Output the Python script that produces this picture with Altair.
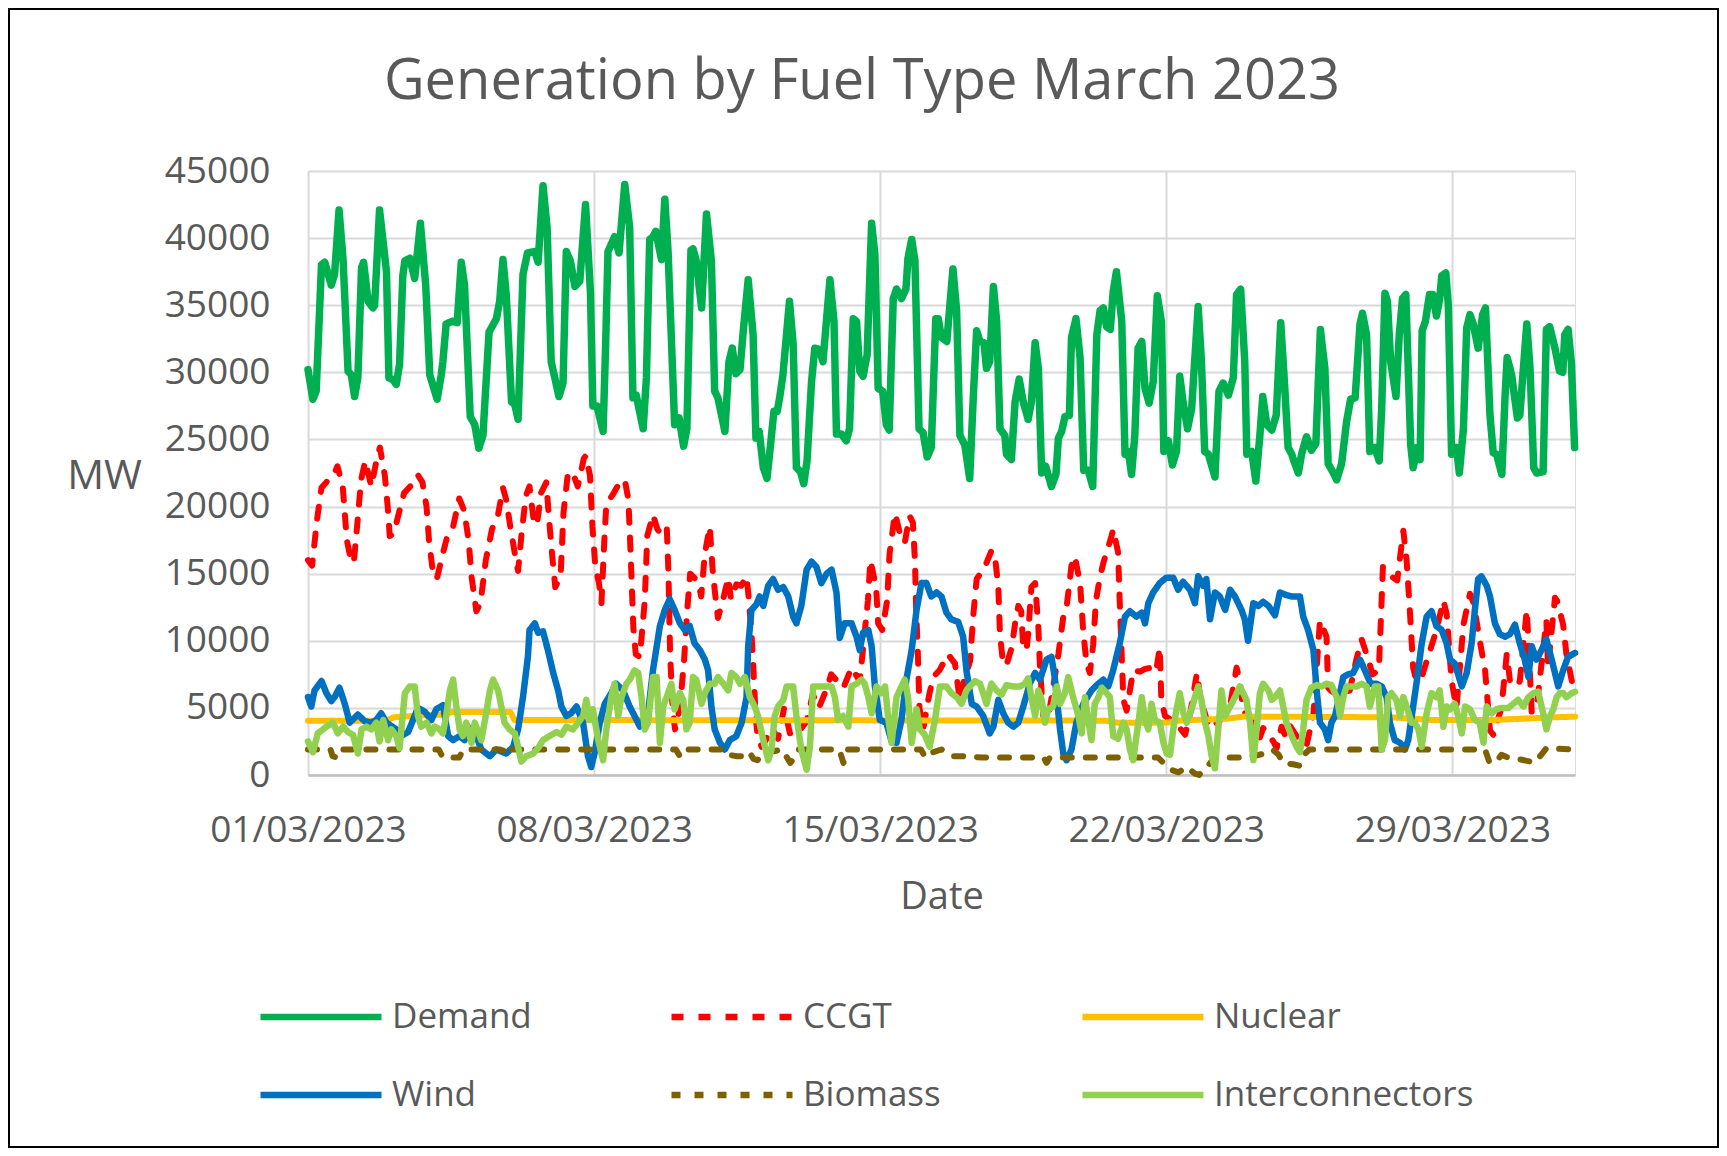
import altair as alt
import pandas as pd

# ---------------- data (t = days since 01/03/2023 00:00, value = MW) ----------------
demand_t = [0.00, 0.12, 0.20, 0.33, 0.41, 0.57, 0.65, 0.76, 0.86, 0.98, 1.06, 1.14, 1.22, 1.31, 1.36, 1.47,
            1.59, 1.63, 1.75, 1.92, 1.98, 2.08, 2.16, 2.24, 2.32, 2.37, 2.49, 2.61, 2.75, 2.88, 2.98, 3.16,
            3.26, 3.30, 3.38, 3.53, 3.65, 3.75, 3.83, 3.97, 4.08, 4.18, 4.28, 4.43, 4.61, 4.69, 4.77, 4.85,
            4.98, 5.06, 5.14, 5.26, 5.37, 5.55, 5.63, 5.75, 5.85, 5.95, 6.14, 6.24, 6.32, 6.42, 6.53, 6.65,
            6.79, 6.91, 6.97, 7.07, 7.22, 7.28, 7.34, 7.50, 7.61, 7.75, 7.87, 7.95, 8.03, 8.20, 8.28, 8.36,
            8.44, 8.51, 8.65, 8.73, 8.81, 8.97, 9.08, 9.19, 9.27, 9.37, 9.42, 9.50, 9.63, 9.75, 9.87, 9.95,
            10.03, 10.20, 10.30, 10.38, 10.47, 10.57, 10.65, 10.77, 10.89, 10.96, 11.04, 11.14, 11.23, 11.30,
            11.40, 11.48, 11.54, 11.62, 11.78, 11.87, 11.95, 12.05, 12.13, 12.21, 12.32, 12.40, 12.51, 12.60,
            12.77, 12.87, 12.93, 13.05, 13.17, 13.25, 13.34, 13.42, 13.50, 13.58, 13.68, 13.79, 13.87, 13.95,
            14.06, 14.15, 14.22, 14.32, 14.40, 14.52, 14.63, 14.68, 14.77, 14.85, 14.95, 15.05, 15.15, 15.25,
            15.36, 15.42, 15.50, 15.63, 15.78, 15.87, 15.95, 16.07, 16.19, 16.28, 16.36, 16.44, 16.54, 16.60,
            16.68, 16.77, 16.85, 16.93, 17.05, 17.09, 17.21, 17.30, 17.40, 17.50, 17.62, 17.70, 17.79, 17.87,
            17.95, 18.05, 18.19, 18.30, 18.36, 18.44, 18.52, 18.63, 18.68, 18.79, 18.89, 18.98, 19.09, 19.20,
            19.30, 19.38, 19.46, 19.54, 19.63, 19.70, 19.78, 19.91, 19.99, 20.07, 20.15, 20.23, 20.31, 20.40,
            20.48, 20.58, 20.68, 20.78, 20.88, 20.94, 21.05, 21.15, 21.25, 21.33, 21.41, 21.52, 21.62, 21.78,
            21.86, 21.94, 22.03, 22.19, 22.29, 22.39, 22.52, 22.64, 22.72, 22.82, 22.92, 22.97, 23.09, 23.19,
            23.29, 23.36, 23.46, 23.58, 23.69, 23.80, 23.90, 23.98, 24.07, 24.11, 24.23, 24.31, 24.43, 24.55,
            24.66, 24.77, 24.88, 24.96, 25.07, 25.17, 25.29, 25.41, 25.51, 25.62, 25.74, 25.80, 25.90, 25.98,
            26.10, 26.21, 26.27, 26.35, 26.41, 26.49, 26.62, 26.70, 26.78, 26.86, 26.98, 27.04, 27.14, 27.21,
            27.26, 27.34, 27.44, 27.52, 27.61, 27.69, 27.74, 27.84, 27.90, 27.98, 28.10, 28.17, 28.27, 28.35,
            28.43, 28.51, 28.63, 28.74, 28.81, 28.92, 29.00, 29.08, 29.21, 29.29, 29.34, 29.45, 29.59, 29.65,
            29.82, 29.90, 29.99, 30.06, 30.22, 30.30, 30.38, 30.51, 30.62, 30.70, 30.75, 30.83, 30.91, 30.99]
demand_v = [30200, 28000, 28600, 38000, 38200, 36500, 37300, 42100, 38300, 30100, 29800, 28200, 29600, 37800, 38200, 35300,
            34800, 35000, 42100, 37500, 29600, 29450, 29100, 30600, 37200, 38300, 38500, 37000, 41100, 36500, 29800, 28000,
            29800, 30800, 33600, 33800, 33700, 38200, 36500, 26700, 26100, 24350, 25300, 33000, 34000, 35300, 38400, 35800,
            27800, 27600, 26500, 37300, 38900, 39000, 38200, 43900, 40800, 30800, 28200, 29200, 39000, 38300, 36400, 36800,
            42500, 36000, 27500, 27500, 25600, 31800, 39000, 40100, 38900, 44000, 40800, 28100, 28300, 25800, 29600, 39900,
            40100, 40500, 38400, 42900, 39000, 26100, 26600, 24500, 25800, 39100, 39200, 38300, 34800, 41800, 38300, 28600,
            28100, 25600, 30800, 31800, 29900, 30200, 33100, 36900, 32800, 25100, 25600, 22900, 22100, 24100,
            27100, 27100, 28100, 29800, 35300, 32100, 22900, 22600, 21700, 23400, 29300, 31800, 31700, 30800,
            36900, 33800, 25400, 25400, 24900, 25800, 34000, 33800, 30100, 29700, 31300, 41100, 38800, 28800,
            28600, 26100, 25700, 35500, 36200, 35500, 36200, 38500, 39900, 38300, 25800, 25500, 23700, 24400,
            34000, 34000, 32600, 32300, 37700, 34600, 25300, 24600, 22100, 28300, 33100, 32300, 32200, 30300,
            30800, 36400, 33800, 25800, 25300, 23900, 23500, 27800, 29500, 27800, 26500, 27800, 32200, 30300,
            22500, 23000, 21500, 22400, 25100, 25600, 26700, 26800, 32600, 34000, 31100, 22700, 22700, 21500,
            32800, 34600, 34800, 33400, 33200, 36000, 37500, 33800, 23900, 24100, 22400, 25300, 31800, 32300,
            28800, 27700, 29300, 35700, 33800, 24100, 24900, 23100, 24100, 29700, 27800, 25800, 27300, 34900,
            30800, 24100, 23900, 22200, 28600, 29200, 28300, 29600, 35800, 36200, 30800, 23900, 24100, 21900,
            25300, 28200, 26100, 25700, 26800, 33700, 28800, 24400, 23900, 23500, 22500, 23900, 25200, 24200,
            24700, 33200, 30300, 23200, 22600, 22000, 23200, 26300, 28000, 28100, 33600, 34400, 32800, 24100,
            24400, 23400, 27300, 35900, 35300, 30800, 28200, 32800, 35500, 35800, 24600, 22900, 24400, 23500,
            33100, 33800, 35800, 35800, 34200, 35500, 37200, 37400, 35000, 23900, 24400, 22500, 25800, 33300,
            34300, 33600, 31800, 34300, 34800, 26800, 24000, 23900, 22400, 28300, 31100, 29800, 26600, 26800,
            33600, 30300, 22900, 22500, 22600, 33200, 33400, 31800, 30100, 30000, 32800, 33200, 30800, 24400]

ccgt_t = [0.00, 0.10, 0.22, 0.33, 0.50, 0.65, 0.72, 0.85, 0.95, 1.05, 1.12, 1.20, 1.30, 1.40, 1.55, 1.70,
          1.76, 1.88, 1.95, 2.00, 2.10, 2.24, 2.35, 2.50, 2.62, 2.70, 2.80, 2.90, 2.96, 3.04, 3.15, 3.30,
          3.40, 3.55, 3.70, 3.82, 3.93, 4.00, 4.12, 4.22, 4.35, 4.50, 4.65, 4.77, 4.85, 4.95, 5.06, 5.14,
          5.22, 5.33, 5.42, 5.52, 5.60, 5.70, 5.83, 5.90, 5.97, 6.05, 6.18, 6.25, 6.36, 6.48, 6.60, 6.75,
          6.80, 6.90, 6.96, 7.03, 7.12, 7.18, 7.25, 7.30, 7.46, 7.63, 7.75, 7.84, 7.90, 7.96, 8.02, 8.12,
          8.24, 8.30, 8.44, 8.55, 8.69, 8.78, 8.82, 8.86, 8.92, 8.98, 9.10, 9.20, 9.28, 9.35, 9.45, 9.55,
          9.62, 9.71, 9.83, 9.90, 9.95, 10.03, 10.15, 10.28, 10.35, 10.48, 10.60, 10.73, 10.78, 10.85, 10.90, 10.95,
          11.00, 11.10, 11.20, 11.35, 11.50, 11.65, 11.80, 12.00, 12.20, 12.35, 12.50, 12.70, 12.80, 12.95, 13.10, 13.30,
          13.50, 13.70, 13.76, 13.90, 13.95, 14.05, 14.17, 14.23, 14.36, 14.50, 14.60, 14.72, 14.80, 14.85, 14.88, 14.92,
          14.96, 15.05, 15.20, 15.30, 15.45, 15.66, 15.83, 15.95, 16.05, 16.20, 16.28, 16.36, 16.52, 16.60, 16.72, 16.80,
          16.89, 16.93, 17.01, 17.10, 17.22, 17.30, 17.38, 17.45, 17.50, 17.58, 17.62, 17.70, 17.79, 17.87, 17.91, 17.99,
          18.10, 18.36, 18.48, 18.56, 18.68, 18.76, 18.89, 18.97, 19.05, 19.13, 19.21, 19.28, 19.38, 19.46, 19.66, 19.70,
          19.82, 19.86, 19.95, 20.03, 20.19, 20.36, 20.48, 20.64, 20.75, 20.84, 20.88, 20.97, 21.17, 21.33, 21.46, 21.58,
          21.75, 21.83, 22.05, 22.30, 22.55, 22.72, 22.80, 22.88, 23.10, 23.29, 23.37, 23.62, 23.70, 23.82, 23.90, 24.00,
          24.27, 24.43, 24.60, 24.68, 24.76, 24.92, 24.96, 25.02, 25.17, 25.49, 25.65, 25.78, 25.90, 26.05, 26.20, 26.25,
          26.30, 26.40, 26.65, 26.80, 26.88, 26.96, 27.04, 27.12, 27.25, 27.61, 27.78, 27.86, 27.98, 28.10, 28.27, 28.43,
          28.52, 28.67, 28.80, 28.92, 29.00, 29.20, 29.33, 29.41, 29.57, 29.65, 29.82, 29.86, 29.94, 30.06, 30.30, 30.34,
          30.51, 30.56, 30.71, 30.79, 30.99]
ccgt_v = [16000, 15600, 19000, 21400, 22000, 22500, 23000, 21500, 17500, 16000, 15800, 18500, 22000, 23400, 21500, 23800,
          24400, 22300, 20000, 17800, 18000, 19700, 21000, 21500, 21600, 22300, 21800, 20000, 17500, 15500, 14600, 16500,
          17700, 18500, 20600, 19700, 17500, 14800, 12200, 12800, 16000, 18300, 19400, 21400, 20500, 18500, 16500, 15200,
          17800, 20800, 21500, 19000, 18600, 21000, 21800, 19000, 16500, 14000, 14800, 19500, 22500, 22500, 21500, 23600,
          23800, 22300, 18500, 15500, 14300, 12800, 17500, 20200, 20900, 21800, 22000, 20500, 16000, 11000, 9000, 8800,
          13000, 17800, 19400, 18300, 17800, 18300, 15000, 9000, 5000, 3400, 5000, 8500, 12300, 15000, 14700, 14400,
          13300, 16500, 18500, 15300, 13800, 11700, 13000, 14700, 13100, 14200, 14100, 14800, 13300, 10600, 7800, 4500,
          2900, 2100, 2600, 3500, 2700, 5000, 3000, 3200, 4000, 6000, 5000, 6500, 7500, 7000, 6500, 8000,
          7000, 13000, 16000, 14000, 11300, 10800, 13000, 16500, 19500, 17800, 17300, 19300, 18800, 16000, 12300, 9200,
          5000, 3400, 6000, 7300, 7800, 9000, 8300, 5500, 7000, 8500, 12000, 14600, 15300, 15800, 16700, 16500,
          14000, 10500, 8200, 8300, 9500, 11300, 12600, 12200, 9500, 9300, 10500, 14000, 14300, 11000, 8000, 4400,
          4000, 9000, 11800, 12500, 15600, 16300, 14300, 10600, 8300, 7600, 9700, 13000, 14800, 15800, 17800, 18300,
          16600, 13000, 5600, 4800, 7800, 7700, 7900, 8000, 7700, 9500, 5500, 4400, 4000, 3500, 3000, 4500,
          7600, 5800, 3500, 4000, 5000, 8000, 7000, 4800, 4000, 2800, 3500, 2500, 2000, 3600, 3000, 3800,
          2500, 2200, 4500, 8000, 11500, 10300, 6500, 6300, 6000, 6300, 8600, 10100, 9000, 7500, 7800, 11500,
          15500, 15000, 14500, 18200, 16000, 12200, 8000, 7000, 7300, 10800, 13000, 12000, 7000, 5000, 11200, 13500,
          12800, 10000, 7800, 3300, 3000, 5000, 9000, 7000, 6600, 7000, 12300, 10000, 4700, 5000, 11500, 8000,
          13200, 13000, 11200, 9000, 6000]

nuclear_t = [0.00, 1.90, 2.10, 2.80, 3.40, 3.50, 4.95, 5.05, 19.50, 19.80, 21.00, 21.30, 22.50, 22.90,
             26.50, 27.50, 29.00, 30.50, 31.00]
nuclear_v = [4050, 4050, 4300, 4450, 4500, 4700, 4700, 4100, 4050, 3900, 3900, 4050, 4200, 4350,
             4300, 4100, 4100, 4300, 4350]

wind_t = [0.00, 0.08, 0.16, 0.33, 0.45, 0.57, 0.65, 0.77, 0.90, 1.02, 1.22, 1.39, 1.55, 1.67, 1.79, 1.92,
          2.16, 2.28, 2.45, 2.57, 2.69, 2.86, 3.02, 3.14, 3.30, 3.43, 3.55, 3.71, 3.83, 3.96, 4.12, 4.24,
          4.45, 4.61, 4.85, 5.02, 5.14, 5.26, 5.38, 5.42, 5.55, 5.63, 5.75, 5.87, 6.00, 6.12, 6.20, 6.32,
          6.44, 6.57, 6.73, 6.85, 6.93, 7.01, 7.14, 7.26, 7.42, 7.54, 7.71, 7.87, 7.99, 8.12, 8.32, 8.44,
          8.61, 8.73, 8.85, 8.97, 9.10, 9.22, 9.34, 9.46, 9.59, 9.71, 9.79, 9.87, 9.95, 10.08, 10.20, 10.32,
          10.48, 10.61, 10.73, 10.77, 10.85, 10.97, 11.05, 11.14, 11.26, 11.38, 11.50, 11.63, 11.75, 11.87, 11.95, 12.07,
          12.20, 12.32, 12.44, 12.56, 12.69, 12.81, 12.93, 13.01, 13.13, 13.30, 13.42, 13.50, 13.58, 13.71, 13.79, 13.87,
          13.99, 14.15, 14.28, 14.40, 14.52, 14.64, 14.77, 14.89, 15.01, 15.13, 15.25, 15.38, 15.50, 15.62, 15.74, 15.91,
          16.03, 16.11, 16.24, 16.36, 16.52, 16.68, 16.77, 16.89, 17.01, 17.13, 17.26, 17.38, 17.50, 17.66, 17.79, 17.91,
          18.07, 18.19, 18.27, 18.40, 18.48, 18.56, 18.68, 18.80, 18.97, 19.17, 19.30, 19.46, 19.58, 19.70, 19.86, 19.99,
          20.11, 20.27, 20.40, 20.48, 20.56, 20.68, 20.84, 21.00, 21.17, 21.29, 21.41, 21.58, 21.70, 21.78, 21.90, 21.98,
          22.07, 22.19, 22.31, 22.44, 22.56, 22.68, 22.84, 22.92, 23.00, 23.13, 23.25, 23.37, 23.50, 23.66, 23.78, 23.94,
          24.07, 24.27, 24.35, 24.47, 24.60, 24.68, 24.76, 24.88, 24.96, 25.04, 25.13, 25.25, 25.33, 25.45, 25.57, 25.74,
          25.86, 26.00, 26.15, 26.27, 26.39, 26.47, 26.59, 26.72, 26.84, 26.92, 27.04, 27.12, 27.25, 27.37, 27.49, 27.61,
          27.74, 27.86, 27.94, 28.06, 28.23, 28.35, 28.47, 28.55, 28.63, 28.71, 28.84, 28.92, 29.04, 29.16, 29.29, 29.41,
          29.53, 29.65, 29.77, 29.86, 29.94, 30.06, 30.18, 30.30, 30.43, 30.51, 30.59, 30.71, 30.83, 31.00]
wind_v = [5800, 5100, 6300, 7000, 6100, 5500, 5800, 6500, 5300, 3900, 4500, 4000, 3900, 4100, 4600, 3900,
          3400, 2900, 3200, 4100, 5000, 4700, 4100, 4900, 5200, 2900, 2600, 2900, 2600, 3500, 2900, 1900,
          1400, 1900, 1600, 2100, 3400, 5800, 8800, 10800, 11300, 10600, 10700, 9300, 7600, 6300, 5100, 4400,
          4600, 5100, 3900, 1400, 600, 1600, 3900, 5300, 6100, 6800, 6300, 5100, 4400, 3600, 4600, 7800,
          11100, 12300, 13100, 12300, 11300, 10800, 11100, 9800, 9300, 8600, 7800, 5100, 3400, 2400, 1900, 2600,
          2900, 3900, 5800, 9600, 12300, 12700, 13300, 12600, 14100, 14600, 13800, 14000, 13300, 11800, 11300, 12600,
          15300, 15900, 15500, 14300, 15000, 15300, 13600, 10200, 11300, 11300, 10300, 9300, 10600, 10800, 9600, 6600,
          4100, 3900, 2500, 2400, 4100, 7100, 9300, 12300, 14300, 14300, 13300, 13600, 13300, 12100, 11600, 11400,
          10300, 7800, 5300, 5100, 4400, 3100, 3600, 5600, 4600, 3900, 3600, 3900, 5100, 6800, 7600, 7100,
          8600, 8800, 7300, 3400, 1600, 1100, 1900, 3900, 5300, 6300, 6700, 7100, 6600, 7800, 9800, 11800,
          12200, 11800, 12100, 11300, 12800, 13600, 14300, 14700, 14700, 13800, 14400, 13800, 12800, 14800, 14100, 14600,
          11600, 13600, 13300, 12300, 13800, 13300, 12300, 11600, 10000, 12800, 12600, 12900, 12600, 11900, 13600, 13400,
          13300, 13300, 11800, 10800, 9300, 6300, 3900, 3400, 2600, 3900, 4400, 6100, 7300, 7500, 7600, 8600,
          7800, 6800, 6800, 6600, 5800, 3900, 2600, 2400, 1900, 2600, 5100, 6800, 9800, 11800, 12200, 11100,
          10800, 9800, 8600, 8300, 6600, 7600, 9800, 12300, 14600, 14800, 14100, 13300, 11300, 10500, 10300, 10500,
          11200, 9800, 8600, 7300, 9600, 8600, 9300, 10100, 8600, 7600, 6600, 7800, 8800, 9100]

biomass_t = [0.00, 0.55, 0.60, 0.72, 0.80, 3.20, 3.30, 3.70, 3.80, 4.70, 4.80, 4.85, 4.95, 9.00, 9.10, 9.20,
             10.20, 10.30, 10.50, 10.70, 10.80, 10.90, 11.00, 11.10, 11.60, 11.80, 11.90, 12.00, 13.00, 13.10, 13.20,
             15.00, 15.10, 15.20, 15.50, 15.80, 16.00, 16.50, 18.00, 18.07, 18.15, 20.80, 20.90, 21.10, 21.30,
             21.50, 21.70, 21.80, 22.00, 22.15, 22.30, 23.00, 23.40, 23.60, 23.75, 23.85, 24.10, 24.25, 24.40,
             24.50, 28.80, 28.90, 29.05, 29.20, 29.40, 29.60, 29.90, 30.00, 30.20, 30.30, 31.00]
biomass_v = [1900, 1900, 1400, 1300, 1900, 1900, 1300, 1300, 1900, 1900, 1800, 1500, 1900, 1900, 1400, 1900,
             1900, 1500, 1400, 1400, 1700, 1200, 1100, 1600, 1900, 900, 1300, 1900, 1900, 900, 1900,
             1900, 1300, 1600, 1900, 1400, 1400, 1300, 1300, 900, 1300, 1300, 1000, 400, 200,
             600, 100, 0, 600, 1200, 1300, 1300, 1600, 1900, 1500, 900, 800, 700, 1600,
             1900, 1900, 1000, 900, 1500, 1250, 1200, 1000, 900, 1600, 2000, 1900]

inter_t = [0.00, 0.12, 0.24, 0.45, 0.61, 0.73, 0.86, 0.98, 1.10, 1.22, 1.31, 1.43, 1.55, 1.67, 1.75, 1.84,
           1.96, 2.04, 2.16, 2.24, 2.37, 2.49, 2.61, 2.69, 2.77, 2.90, 3.02, 3.10, 3.22, 3.30, 3.38, 3.47,
           3.55, 3.63, 3.71, 3.79, 3.87, 4.00, 4.08, 4.24, 4.36, 4.45, 4.53, 4.65, 4.73, 4.81, 4.93, 5.06,
           5.14, 5.22, 5.34, 5.51, 5.63, 5.75, 5.91, 6.08, 6.20, 6.32, 6.48, 6.61, 6.73, 6.81, 6.89, 6.97,
           7.10, 7.22, 7.30, 7.42, 7.50, 7.59, 7.67, 7.79, 7.87, 7.99, 8.08, 8.16, 8.24, 8.32, 8.44, 8.53,
           8.61, 8.69, 8.81, 8.89, 8.97, 9.10, 9.18, 9.26, 9.34, 9.42, 9.50, 9.63, 9.71, 9.83, 9.95, 10.03,
           10.16, 10.28, 10.36, 10.48, 10.57, 10.69, 10.81, 10.93, 11.01, 11.14, 11.26, 11.34, 11.42, 11.50, 11.63, 11.71,
           11.87, 11.95, 12.07, 12.20, 12.28, 12.36, 12.52, 12.69, 12.81, 12.89, 12.97, 13.09, 13.22, 13.30, 13.42, 13.54,
           13.62, 13.71, 13.79, 13.91, 14.03, 14.12, 14.19, 14.28, 14.40, 14.52, 14.60, 14.68, 14.77, 14.89, 14.97, 15.09,
           15.21, 15.34, 15.46, 15.62, 15.74, 15.87, 15.99, 16.11, 16.19, 16.32, 16.44, 16.52, 16.60, 16.72, 16.85, 16.97,
           17.09, 17.25, 17.42, 17.54, 17.62, 17.70, 17.79, 17.87, 17.95, 18.03, 18.11, 18.23, 18.32, 18.40, 18.52, 18.60,
           18.72, 18.85, 18.93, 19.01, 19.09, 19.17, 19.25, 19.34, 19.42, 19.54, 19.62, 19.70, 19.82, 19.95, 20.03, 20.11,
           20.19, 20.27, 20.40, 20.48, 20.56, 20.64, 20.72, 20.84, 20.93, 21.01, 21.09, 21.17, 21.25, 21.33, 21.42, 21.50,
           21.62, 21.70, 21.78, 21.86, 21.95, 22.03, 22.11, 22.19, 22.27, 22.35, 22.44, 22.56, 22.68, 22.80, 22.88, 22.96,
           23.05, 23.13, 23.21, 23.29, 23.37, 23.50, 23.58, 23.66, 23.78, 23.86, 23.94, 24.07, 24.19, 24.27, 24.35, 24.43,
           24.55, 24.68, 24.80, 24.92, 25.04, 25.17, 25.25, 25.33, 25.41, 25.53, 25.66, 25.78, 25.90, 25.98, 26.10, 26.19,
           26.27, 26.35, 26.43, 26.51, 26.63, 26.72, 26.80, 26.88, 27.00, 27.08, 27.17, 27.25, 27.37, 27.49, 27.61, 27.69,
           27.78, 27.86, 27.94, 28.06, 28.14, 28.23, 28.31, 28.43, 28.55, 28.67, 28.76, 28.84, 28.96, 29.08, 29.20, 29.37,
           29.49, 29.61, 29.74, 29.86, 29.98, 30.10, 30.22, 30.30, 30.39, 30.47, 30.55, 30.63, 30.71, 30.79, 30.92, 31.00]
inter_v = [2500, 1700, 3100, 3600, 3900, 3100, 3600, 3200, 3000, 1600, 3400, 3600, 3400, 3900, 2500, 4100,
           2600, 3400, 2900, 2000, 6100, 6600, 6600, 4400, 3600, 3900, 3100, 3600, 3400, 3100, 4400, 6300,
           7100, 5100, 3400, 2900, 3900, 2400, 3900, 2600, 4600, 6300, 7100, 6300, 5100, 3900, 3400, 3100,
           2100, 1000, 1400, 1600, 2000, 2600, 2900, 3200, 3000, 3600, 3400, 3900, 4400, 5600, 4100, 4900,
           2600, 1100, 3400, 5800, 6800, 4400, 5800, 6800, 7100, 7800, 7600, 5800, 3400, 3900, 7300, 7300,
           2400, 5100, 6100, 6800, 4900, 6100, 5600, 3400, 3900, 7300, 7100, 5300, 6100, 6800, 6800, 7300,
           6800, 6300, 7600, 7300, 6800, 7300, 5800, 5100, 4400, 2600, 1100, 1900, 4400, 5100, 5600, 6600,
           6600, 4400, 1900, 400, 2100, 6600, 6600, 6600, 6600, 5800, 4100, 4400, 3600, 6600, 6800, 7100,
           6800, 5800, 4600, 6600, 6100, 6600, 4400, 2400, 5800, 6600, 7100, 5800, 2400, 4900, 3400, 3000,
           2100, 4100, 6600, 6600, 6100, 5800, 5300, 6300, 6600, 7000, 6800, 6100, 5300, 6800, 6300, 6000,
           6700, 6600, 6600, 6800, 7200, 5800, 4400, 6300, 5600, 3900, 4900, 5100, 6600, 5300, 6100, 7300,
           5800, 4400, 3100, 5800, 4100, 2600, 5300, 5800, 6500, 6100, 5800, 2900, 2700, 3900, 3400, 1900,
           1100, 2900, 5800, 4100, 3400, 5300, 4100, 3900, 2400, 1600, 1500, 3400, 4900, 6100, 4600, 3900,
           4900, 5800, 6600, 5600, 3900, 2900, 1400, 500, 3400, 6300, 4400, 5100, 5800, 6600, 6100, 5600,
           3900, 1100, 3400, 6100, 6800, 6300, 5600, 5800, 6300, 5100, 3900, 2900, 2100, 1700, 3400, 5600,
           6500, 6700, 6600, 6800, 6700, 5800, 4400, 5800, 6600, 6600, 6600, 6800, 6600, 5100, 6600, 6600,
           1900, 2600, 5800, 6100, 5600, 4400, 5800, 5100, 3900, 3900, 3400, 2100, 4600, 6100, 5800, 6300,
           3600, 5100, 4900, 5300, 4400, 3100, 5100, 4900, 4100, 3900, 2400, 5100, 4600, 4900, 5000, 5000,
           5300, 5600, 5100, 5800, 6100, 6200, 4600, 3400, 4400, 4900, 5800, 6100, 6100, 5800, 6100, 6200]

series_names = ["Demand", "CCGT", "Nuclear", "Wind", "Biomass", "Interconnectors"]
series_colors = ["#00B050", "#FF0000", "#FFC000", "#0070C0", "#7F6000", "#92D050"]
series_dash = [[1, 0], [12, 15], [1, 0], [1, 0], [9, 14], [1, 0]]
series_width = [7.5, 6, 6, 6.5, 6, 6.5]
tick_days = [1, 8, 15, 22, 29]
title_text = "Generation by Fuel Type March 2023"

# ---------------- build table ----------------
start = pd.Timestamp("2023-03-01T00:00:00")
frames = []
for name, ts, vs in [("Demand", demand_t, demand_v), ("CCGT", ccgt_t, ccgt_v),
                     ("Nuclear", nuclear_t, nuclear_v), ("Wind", wind_t, wind_v),
                     ("Biomass", biomass_t, biomass_v), ("Interconnectors", inter_t, inter_v)]:
    frames.append(pd.DataFrame({"series": name, "t": ts, "MW": vs}))
data = pd.concat(frames, ignore_index=True)
data["time"] = (start + pd.to_timedelta(data["t"], unit="D")).dt.strftime("%Y-%m-%dT%H:%M:%SZ")
data = data[["series", "time", "MW"]]

FONT = "Open Sans"
GREY = "#595959"

legend = alt.Legend(
    title=None, orient="none", legendX=-51, legendY=826, columns=3, direction="horizontal",
    symbolType="stroke", symbolSize=14641, symbolStrokeWidth=6.5,
    labelFontSize=35, labelColor=GREY, labelFont=FONT, labelOffset=7, labelLimit=400,
    columnPadding=16, rowPadding=38, gridAlign="all", clipHeight=40, padding=0,
)

x_enc = alt.X(
    "time:T",
    scale=alt.Scale(type="utc", domain=[alt.DateTime(year=2023, month=3, date=1, utc=True),
                                        alt.DateTime(year=2023, month=4, date=1, utc=True)]),
    axis=alt.Axis(
        values=[alt.DateTime(year=2023, month=3, date=d, utc=True) for d in tick_days],
        format="%d/%m/%Y", labelFlush=False, labelOverlap=False, labelLimit=400,
        labelFontSize=37, labelColor=GREY, labelFont=FONT, labelPadding=37, tickSize=0, ticks=False,
        domainColor="#BFBFBF", domainWidth=2.5, grid=True, gridColor="#D9D9D9", gridWidth=2,
        title="Date", titleFont=FONT, titleFontSize=38, titleColor=GREY, titleFontWeight="normal",
        titleY=122, titleBaseline="middle",
    ),
)
y_enc = alt.Y(
    "MW:Q",
    scale=alt.Scale(domain=[0, 45000], nice=False),
    axis=alt.Axis(
        values=list(range(0, 45001, 5000)), format="d",
        labelFontSize=37, labelColor=GREY, labelFont=FONT, labelPadding=38, tickSize=0, ticks=False,
        domain=False, grid=True, gridColor="#D9D9D9", gridWidth=2,
        title="MW", titleFont=FONT, titleFontSize=41, titleColor=GREY, titleFontWeight="normal",
        titleAngle=0, titleX=-204, titleY=305, titleAlign="center", titleBaseline="middle",
    ),
)

color_enc = alt.Color("series:N", scale=alt.Scale(domain=series_names, range=series_colors), legend=legend)
dash_enc = alt.StrokeDash("series:N", scale=alt.Scale(domain=series_names, range=series_dash), legend=legend)

layers = []
for s, w in zip(series_names, series_width):
    layers.append(
        alt.Chart(data).mark_line(strokeCap="round", strokeJoin="round", strokeWidth=w)
        .encode(x=x_enc, y=y_enc, color=color_enc, strokeDash=dash_enc)
        .transform_filter(alt.datum.series == s)
    )

title = alt.Chart(pd.DataFrame({"label": [title_text]})).mark_text(
    font=FONT, fontSize=56, color=GREY, align="center", baseline="alphabetic"
).encode(text="label:N", x=alt.value(554), y=alt.value(-72))

border = alt.Chart(pd.DataFrame({"b": [0]})).mark_rect(
    fillOpacity=0, stroke="black", strokeWidth=2
).encode(x=alt.value(-299), x2=alt.value(1410), y=alt.value(-162), y2=alt.value(976))

chart = alt.layer(*layers, title, border).properties(
    width=1267, height=604,
    padding={"left": 300, "top": 163, "right": 144, "bottom": 373},
    autosize=alt.AutoSizeParams(type="none"),
).configure_view(stroke="transparent").configure(background="white")

chart.save("out.html", embed_options={"renderer": "svg", "actions": False})
